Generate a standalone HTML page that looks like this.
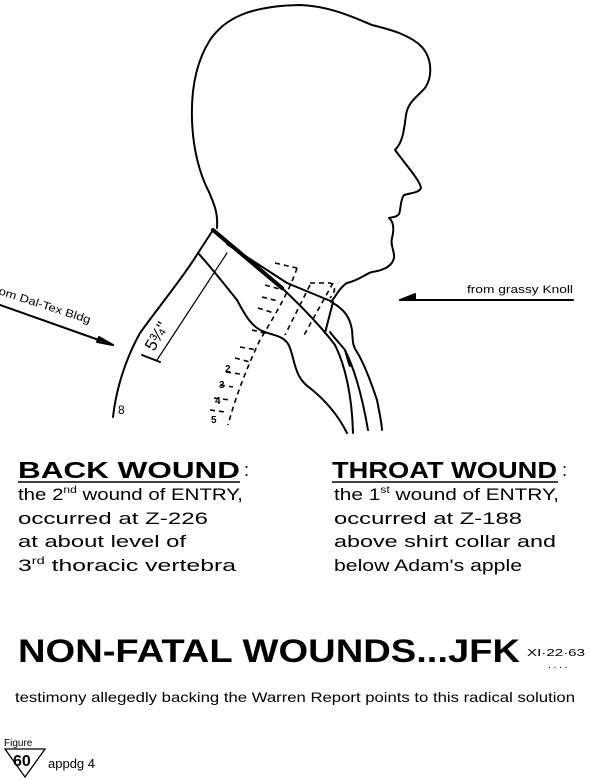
<!DOCTYPE html>
<html><head><meta charset="utf-8"><style>
html,body{margin:0;padding:0;background:#fff;}
svg{display:block;}
text{font-family:"Liberation Sans",sans-serif;fill:#000;}
</style></head><body>
<svg width="600" height="780" viewBox="0 0 600 780" xmlns="http://www.w3.org/2000/svg">
<g fill="none" stroke="#000" stroke-width="2" stroke-linejoin="round" stroke-linecap="round">
<path d="M217,228 C218,212 214,204 209,192 C200,175 193,150 192,120 C191,90 196,62 210,40 C225,18 250,6 300,5 C330,6 355,18 372,25 C392,30 410,35 422,47 C433,60 432,78 425,88 C416,98 408,102 406,115 C404,130 403,142 395,150 L405,163 C412,172 420,182 421,188 C419,193 410,193 404,195 C400,200 401,210 399,214 C396,218 391,217 389,218 C394,222 394,230 392,238 C390,245 395,252 394,258 C392,266 385,270 372,272 C365,274 360,280 347,283 C340,287 336,296 331,302"/>
<path d="M213,230 L282,288" stroke-width="4"/>
<path d="M213,230 L198,253"/>
<path d="M227,244 L287,283 L333,302"/>
<path d="M282,288 C300,305 320,325 335,345 C345,365 352,395 353,433"/>
<path d="M198,253 C210,266 225,285 237,300 C245,315 252,328 265,332 C275,336 286,336 290,348 C295,362 295,378 310,388 C325,400 338,415 347,433"/>
<path d="M198,253 C185,275 160,305 140,333 C125,360 116,390 113,417"/>
<path d="M333,302 L325,333"/>
<path d="M333,303 C345,310 350,318 352,330 C353,340 352,345 357,352 C365,365 372,385 377,400 C380,415 382,425 382,430"/>
<path d="M330,332 C336,340 342,346 345,350 C347,356 348,362 350,366"/>
<path d="M345,350 C355,370 362,395 368,430"/>
<path d="M227,253 L157,360" stroke-width="1.2"/>
<path d="M142,355 L160,362"/>
<path d="M400,300 L573,300"/>
<path d="M400,300 L415,294 L415,300 Z" fill="#000"/>
<path d="M0,305 L113,345"/>
<path d="M113,345 L99,337 L97,342 Z" fill="#000"/>
</g>
<g fill="none" stroke="#000" stroke-width="1.6" stroke-dasharray="5,4">
<path d="M297,268 C290,290 275,315 260,340 C248,365 236,395 228,425"/>
<path d="M310,285 L285,335"/>
<path d="M333,283 L303,337"/>
<path d="M275,263 L297,268"/>
<path d="M310,283 L330,283 C336,285 336,292 330,298"/>
<path d="M265,285 L283,290"/>
<path d="M262,297 L278,301"/>
<path d="M258,308 L274,313"/>
<path d="M252,330 L268,334"/>
<path d="M240,347 L257,350"/>
<path d="M235,358 L250,362"/>
<path d="M226,372 L240,374"/>
<path d="M220,385 L233,387"/>
<path d="M214,398 L230,400"/>
<path d="M210,410 L225,412"/>
</g>
<g font-size="10" font-weight="bold">
<text x="225" y="372">2</text>
<text x="219" y="388">3</text>
<text x="215" y="404">4</text>
<text x="211" y="423">5</text>
</g>
<text x="0" y="0" font-size="17" transform="translate(154,352) rotate(-60)">5¾"</text>
<text x="118" y="414" font-size="12">8</text>
<text x="467" y="293" font-size="11" textLength="106" lengthAdjust="spacingAndGlyphs">from grassy Knoll</text>
<text x="0" y="0" font-size="11" transform="translate(-2,294) rotate(18)" textLength="96" lengthAdjust="spacingAndGlyphs">om Dal-Tex Bldg</text>
<text x="18" y="478" font-size="23" font-weight="bold" textLength="222" lengthAdjust="spacingAndGlyphs">BACK WOUND</text>
<text x="244" y="476" font-size="18">:</text>
<line x1="18" y1="482" x2="240" y2="482" stroke="#000" stroke-width="1.5"/>
<g font-size="17">
<text x="18" y="500" textLength="225" lengthAdjust="spacingAndGlyphs">the 2<tspan font-size="10" dy="-7">nd</tspan><tspan dy="7"> wound of ENTRY,</tspan></text>
<text x="18" y="524" textLength="190" lengthAdjust="spacingAndGlyphs">occurred at Z-226</text>
<text x="18" y="547" textLength="168" lengthAdjust="spacingAndGlyphs">at about level of</text>
<text x="18" y="571" textLength="218" lengthAdjust="spacingAndGlyphs">3<tspan font-size="10" dy="-7">rd</tspan><tspan dy="7"> thoracic vertebra</tspan></text>
</g>
<text x="332" y="478" font-size="23" font-weight="bold" textLength="225" lengthAdjust="spacingAndGlyphs">THROAT WOUND</text>
<text x="562" y="476" font-size="18">:</text>
<line x1="332" y1="482" x2="558" y2="482" stroke="#000" stroke-width="1.5"/>
<g font-size="17">
<text x="334" y="500" textLength="225" lengthAdjust="spacingAndGlyphs">the 1<tspan font-size="10" dy="-7">st</tspan><tspan dy="7"> wound of ENTRY,</tspan></text>
<text x="334" y="524" textLength="188" lengthAdjust="spacingAndGlyphs">occurred at Z-188</text>
<text x="334" y="547" textLength="222" lengthAdjust="spacingAndGlyphs">above shirt collar and</text>
<text x="334" y="571" textLength="188" lengthAdjust="spacingAndGlyphs">below Adam's apple</text>
</g>
<text x="18" y="662" font-size="32" font-weight="bold" textLength="502" lengthAdjust="spacingAndGlyphs">NON-FATAL WOUNDS...JFK</text>
<text x="527" y="656" font-size="10" textLength="58" lengthAdjust="spacingAndGlyphs">XI·22·63</text>
<text x="548" y="668" font-size="10">. . . .</text>
<text x="15" y="702" font-size="14" textLength="560" lengthAdjust="spacingAndGlyphs">testimony allegedly backing the Warren Report points to this radical solution</text>
<text x="4" y="746" font-size="10">Figure</text>
<path d="M5,749 L45,749 L25,777 Z" fill="none" stroke="#000" stroke-width="1.3"/>
<text x="13" y="766" font-size="16" font-weight="bold">60</text>
<text x="48" y="768" font-size="13">appdg 4</text>
</svg>
</body></html>
